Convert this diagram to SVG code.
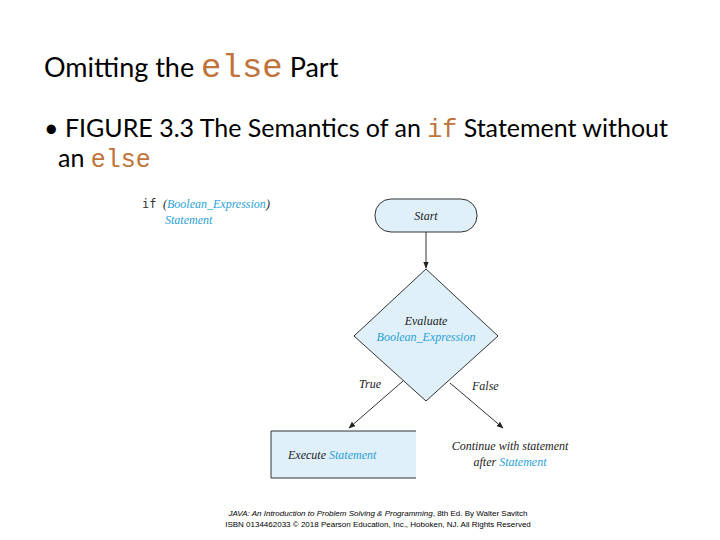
<svg xmlns="http://www.w3.org/2000/svg" width="720" height="540" viewBox="0 0 720 540">
<style>
.t{font-family:Lato,"Open Sans",sans-serif;fill:#000}
.m{font-family:"Liberation Mono","Courier New",monospace;fill:#c0733a}
.s{font-family:"Liberation Serif","Times New Roman",serif;font-style:italic;font-size:12px;fill:#222}
.b{fill:#2a9fd6}
.sh{fill:#dff0fa;stroke:#333;stroke-width:1}
.c{stroke:#333;stroke-width:1;fill:none}
</style>
<defs><marker id="a" viewBox="0 0 10 10" refX="9" refY="5" markerWidth="7" markerHeight="7" orient="auto"><path d="M0,1 L10,5 L0,9 z" fill="#222"/></marker></defs>
<rect width="720" height="540" fill="#fff"/>
<text class="t" x="44" y="77" font-size="27">Omitting the <tspan class="m" font-size="34">else</tspan> Part</text>
<text class="t" x="44" y="137" font-size="25">• FIGURE 3.3 The Semantics of an <tspan class="m" font-size="25">if</tspan> Statement without</text>
<text class="t" x="58" y="167" font-size="25">an <tspan class="m" font-size="25">else</tspan></text>
<text x="142" y="208" font-family="DejaVu Sans Mono,monospace" font-size="12" fill="#333">if</text>
<text class="s" x="163" y="208">(<tspan class="b">Boolean_Expression</tspan>)</text>
<text class="s b" x="165" y="224">Statement</text>
<g id="start"><rect class="sh" x="375" y="199" width="102" height="33" rx="16"/><text class="s" x="426" y="220" text-anchor="middle">Start</text></g>
<g id="eval"><polygon class="sh" points="426,269 498,336 426,401 354,336"/><text class="s" x="426" y="325" text-anchor="middle">Evaluate</text><text class="s b" x="426" y="341" text-anchor="middle">Boolean_Expression</text></g>
<g id="exec"><rect x="271" y="431" width="145" height="47" fill="#dff0fa"/><path class="c" d="M416,431 H271 V478 H416"/><text class="s" x="288" y="459">Execute <tspan class="b">Statement</tspan></text></g>
<g id="cont"><text class="s" x="510" y="450" text-anchor="middle">Continue with statement</text><text class="s" x="510" y="466" text-anchor="middle">after <tspan class="b">Statement</tspan></text></g>
<g id="connectors">
<line class="c" x1="426" y1="232" x2="426" y2="268" marker-end="url(#a)"/>
<line class="c" x1="403" y1="381" x2="349" y2="428" marker-end="url(#a)"/>
<line class="c" x1="450" y1="383" x2="503" y2="428" marker-end="url(#a)"/>
<text class="s" x="359" y="388">True</text>
<text class="s" x="472" y="390">False</text>
</g>
<text x="378" y="516" text-anchor="middle" font-family="Liberation Sans,sans-serif" font-size="8" fill="#000"><tspan font-style="italic">JAVA: An Introduction to Problem Solving &amp; Programming</tspan>, 8th Ed. By Walter Savitch</text>
<text x="378" y="527" text-anchor="middle" font-family="Liberation Sans,sans-serif" font-size="8" fill="#000">ISBN 0134462033 © 2018 Pearson Education, Inc., Hoboken, NJ. All Rights Reserved</text>
</svg>
